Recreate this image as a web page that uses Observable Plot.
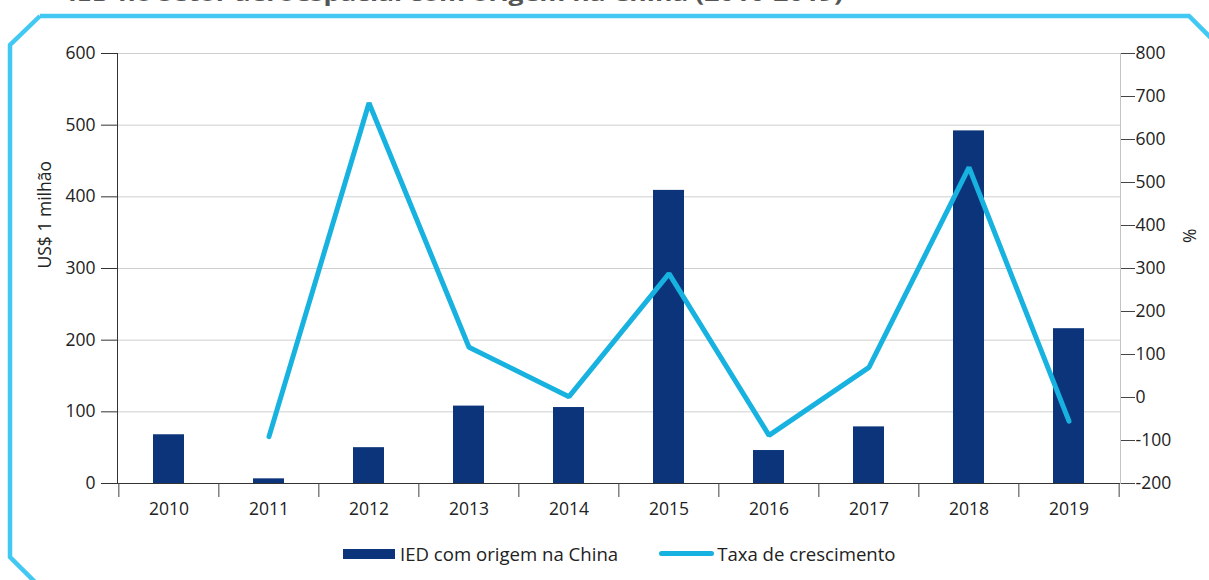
<!DOCTYPE html>
<html><head><meta charset="utf-8">
<script src="https://cdn.jsdelivr.net/npm/d3@7"></script>
<script src="https://cdn.jsdelivr.net/npm/@observablehq/plot@0.6"></script>
<style>
body{margin:0;background:#fff;font-family:"Open Sans",sans-serif;}
#wrap{position:relative;width:1209px;height:580px;overflow:hidden;background:#fff;}
#wrap svg{position:absolute;left:0;top:0;}
#legend{position:absolute;left:343px;top:541px;display:flex;align-items:center;font-size:18.6px;color:#222;white-space:nowrap;}
.sw1{width:52px;height:10px;background:#0b347a;margin-right:5px;}
.sw2{width:55px;height:5px;border-radius:3px;background:#17b2e0;margin-left:41px;margin-right:3px;}
</style></head><body>
<div id="wrap"></div>
<script>
const titleText = "IED no setor aeroespacial com origem na China (2010-2019)";
const years = ["2010","2011","2012","2013","2014","2015","2016","2017","2018","2019"];
const ied = [68, 6.5, 50, 108, 106, 409, 46, 79, 492, 216];
const growth = [null, -91, 685, 117, 2, 288, -88, 70, 535, -55];
const leftTicks = [0, 100, 200, 300, 400, 500, 600];
const rightTicks = [-200, -100, 0, 100, 200, 300, 400, 500, 600, 700, 800];
const seriesNames = ["IED com origem na China", "Taxa de crescimento"];
const yLabelLeft = "US$ 1 milhão";
const yLabelRight = "%";

const barColor = "#0b347a", lineColor = "#17b2e0";
const rows = years.map((y, i) => ({year: y, ied: ied[i], growth: growth[i]}));
const toLeft = g => (g == null ? NaN : (g + 200) * 0.6);
const fromLeft = v => v / 0.6 - 200;

const W = 1209, H = 580, mL = 117, mR = 89, mT = 53, mB = 97;
const step = (W - mL - mR) / years.length;

const chart = Plot.plot({
  width: W, height: H,
  marginLeft: mL, marginRight: mR, marginTop: mT, marginBottom: mB,
  style: {fontFamily: "Open Sans, sans-serif", fontSize: "17.5px", color: "#222", background: "transparent"},
  x: {type: "band", domain: years, paddingInner: 0.688, paddingOuter: 0.344, label: null},
  y: {domain: [0, 600], label: null},
  marks: [
    Plot.gridY({ticks: leftTicks.filter(t => t > 0), stroke: "#cfcfcf", strokeOpacity: 1}),
    Plot.barY(rows, {x: "year", y: "ied", fill: barColor}),
    Plot.frame({anchor: "right", stroke: "#c4c4c4"}),
    Plot.frame({anchor: "left", stroke: "#333"}),
    Plot.ruleY([0], {stroke: "#333"}),
    Plot.axisY({ticks: leftTicks, tickSize: 16, tickPadding: 6, tickFormat: d => String(d), label: null, stroke: "#333"}),
    Plot.axisY({anchor: "right", ticks: rightTicks.map(toLeft), tickFormat: d => String(Math.round(fromLeft(d))), tickSize: 14, tickPadding: 1, label: null, stroke: "#444"}),
    Plot.axisX({tickSize: 0, tickPadding: 19, label: null}),
    Plot.axisX({tickSize: 14, tickFormat: () => "", dx: -step / 2, label: null, stroke: "#444"}),
    Plot.axisX({ticks: [years[years.length - 1]], tickSize: 14, tickFormat: () => "", dx: step / 2, label: null, stroke: "#444"}),
    Plot.line(rows, {x: "year", y: d => toLeft(d.growth), stroke: lineColor, strokeWidth: 5, strokeLinejoin: "miter", strokeLinecap: "round"}),
    Plot.text([yLabelLeft], {frameAnchor: "left", dx: -72, rotate: -90, fontSize: 17.5, fill: "#222"}),
    Plot.text([yLabelRight], {frameAnchor: "right", dx: 70, dy: -40, rotate: -90, fontSize: 17.5, fill: "#222"})
  ]
});

const wrap = document.getElementById("wrap");
wrap.appendChild(chart);

// decorative frame and clipped title
const ns = "http://www.w3.org/2000/svg";
const deco = document.createElementNS(ns, "svg");
deco.setAttribute("width", W); deco.setAttribute("height", H);
deco.style.pointerEvents = "none";
const path = document.createElementNS(ns, "path");
path.setAttribute("d", "M40,16 L1189,16 L1235,62 M40,16 L10,45 L10,557 L42,589");
path.setAttribute("fill", "none");
path.setAttribute("stroke", "#42c9f3");
path.setAttribute("stroke-width", "4.5");
deco.appendChild(path);
const t = document.createElementNS(ns, "text");
t.setAttribute("x", 68); t.setAttribute("y", 1);
t.setAttribute("font-family", "Open Sans, sans-serif");
t.setAttribute("font-weight", "bold");
t.setAttribute("font-size", "22");
t.setAttribute("fill", "#555");
t.setAttribute("textLength", 775);
t.setAttribute("lengthAdjust", "spacingAndGlyphs");
t.textContent = titleText;
deco.appendChild(t);
wrap.appendChild(deco);

const legend = document.createElement("div");
legend.id = "legend";
legend.innerHTML = `<div class="sw1"></div><span>${seriesNames[0]}</span><div class="sw2"></div><span>${seriesNames[1]}</span>`;
wrap.appendChild(legend);
</script>
</body></html>
